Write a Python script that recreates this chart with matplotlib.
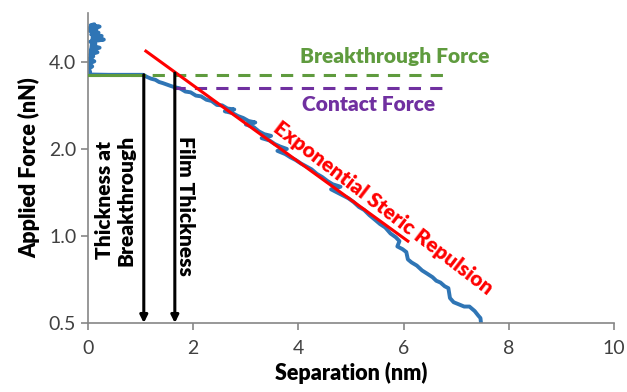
import matplotlib
matplotlib.use('Agg')
import matplotlib.pyplot as plt

plt.rcParams['font.family'] = ['Lato', 'DejaVu Sans']

# Approach curve: separation (nm) vs applied force (nN)
sep_nm = [0.00, 0.04, 0.01, 0.08, 0.02, 0.12, 0.03, 0.10, 0.05, 0.18, 0.06, 0.22,
          0.08, 0.14, 0.04, 0.30, 0.10, 0.26, 0.06, 0.20, 0.03, 0.16, 0.02, 0.22,
          0.05, 0.12, 0.00,
          0.40, 0.80, 1.05, 1.12, 1.20, 1.28, 1.35, 1.42, 1.50, 1.58, 1.65,
          1.75, 1.85, 1.95, 2.05, 2.15, 2.25, 2.35, 2.45, 2.55, 2.65, 2.78,
          2.60, 2.75, 2.85, 2.95, 3.05, 3.18, 3.00, 3.15, 3.25, 3.35, 3.48,
          3.30, 3.45, 3.55, 3.65, 3.78, 3.60, 3.75, 3.85, 3.95, 4.05, 4.15,
          4.25, 4.35, 4.45, 4.55, 4.65, 4.80, 4.62, 4.75, 4.85, 4.95,
          5.05, 5.15, 5.25, 5.35, 5.45, 5.55, 5.65, 5.75, 5.85, 5.92, 5.88,
          5.98, 6.05, 6.08, 6.15, 6.25, 6.35, 6.45, 6.55, 6.62, 6.70, 6.78,
          6.85, 6.88, 6.95, 7.05, 7.15, 7.25, 7.35, 7.42, 7.46, 7.47]
force_nN = [3.62, 3.70, 3.78, 3.86, 3.95, 4.02, 4.10, 4.18, 4.25, 4.32, 4.40, 4.48,
            4.55, 4.62, 4.70, 4.78, 4.85, 4.92, 4.98, 5.05, 5.12, 5.18, 5.24, 5.30,
            5.36, 5.40, 3.62,
            3.61, 3.61, 3.61, 3.55, 3.50, 3.47, 3.41, 3.38, 3.34, 3.30, 3.27,
            3.24, 3.16, 3.14, 3.06, 3.04, 2.96, 2.93, 2.84, 2.83, 2.76, 2.74,
            2.70, 2.66, 2.60, 2.56, 2.50, 2.47, 2.43, 2.38, 2.30, 2.25, 2.22,
            2.18, 2.14, 2.08, 2.04, 2.00, 1.97, 1.92, 1.87, 1.83, 1.78, 1.74,
            1.70, 1.64, 1.60, 1.55, 1.51, 1.48, 1.45, 1.41, 1.38, 1.35,
            1.31, 1.26, 1.23, 1.18, 1.14, 1.10, 1.07, 1.02, 0.99, 0.96, 0.92,
            0.90, 0.88, 0.83, 0.81, 0.79, 0.76, 0.74, 0.72, 0.70, 0.69, 0.67,
            0.66, 0.61, 0.59, 0.58, 0.57, 0.57, 0.55, 0.53, 0.52, 0.50]

# Exponential steric repulsion fit (straight on a log axis)
fit_x = [1.10, 6.08]
fit_y = [4.36, 0.96]

breakthrough_force = 3.61
contact_force = 3.25
breakthrough_x = [0.0, 6.9]
contact_x = [1.62, 6.82]
thickness_at_breakthrough = 1.06
film_thickness = 1.65

y_ticks = [0.5, 1.0, 2.0, 4.0]
y_tick_labels = ['0.5', '1.0', '2.0', '4.0']
x_ticks = [0, 2, 4, 6, 8, 10]

fig = plt.figure(figsize=(6.27, 3.92), dpi=100)
ax = fig.add_axes([0.1404, 0.176, 0.839, 0.791])

axis_grey = '#868686'
green = '#5f9b3e'
purple = '#7030a0'
blue = '#2f75b5'

ax.plot(sep_nm, force_nN, color=blue, lw=2.8, zorder=2)
ax.plot(breakthrough_x, [breakthrough_force] * 2, color=green, lw=2.2,
        dashes=(4, 3), zorder=3)
ax.plot([0.0, thickness_at_breakthrough], [breakthrough_force] * 2,
        color=green, lw=2.2, zorder=3)
ax.plot(contact_x, [contact_force] * 2, color=purple, lw=2.2,
        dashes=(4, 3), zorder=3)
ax.plot(fit_x, fit_y, color='red', lw=2.2, zorder=4)

# Thickness markers
for x0, top in [(thickness_at_breakthrough, breakthrough_force),
                (film_thickness, 3.66)]:
    ax.annotate('', xy=(x0, 0.5), xytext=(x0, top),
                arrowprops=dict(arrowstyle='-|>', color='black', lw=2.2,
                                mutation_scale=11, shrinkA=0, shrinkB=0),
                zorder=5, annotation_clip=False)

ax.set_yscale('log', base=2)
ax.set_ylim(0.5, 5.91)
ax.set_xlim(0, 10)
ax.set_yticks(y_ticks)
ax.set_yticklabels(y_tick_labels)
ax.minorticks_off()
ax.set_xticks(x_ticks)

for side in ['top', 'right']:
    ax.spines[side].set_visible(False)
for side in ['left', 'bottom']:
    ax.spines[side].set_color(axis_grey)
    ax.spines[side].set_linewidth(1.2)
ax.tick_params(axis='both', colors=axis_grey, labelcolor='#404040',
               labelsize=14, length=5, width=1.2)
ax.tick_params(axis='x', pad=7)

ax.set_xlabel('Separation (nm)', fontsize=15.5, fontweight='heavy', labelpad=4)
ax.set_ylabel('Applied Force (nN)', fontsize=15.5, fontweight='heavy', labelpad=6)

label_kw = dict(fontsize=15, fontweight='heavy', ha='center', va='center')
ax.text(5.84, 4.17, 'Breakthrough Force', color=green, **label_kw)
ax.text(5.33, 2.85, 'Contact Force', color=purple, **label_kw)
ax.text(0.52, 1.33, 'Thickness at\nBreakthrough', rotation=90,
        linespacing=1.15, **label_kw)
ax.text(1.86, 1.27, 'Film Thickness', rotation=-90, **label_kw)
ax.text(5.62, 1.25, 'Exponential Steric Repulsion', rotation=-37.5,
        color='red', rotation_mode='anchor', **label_kw)

fig.savefig('out.png', dpi=100)
plt.close(fig)
